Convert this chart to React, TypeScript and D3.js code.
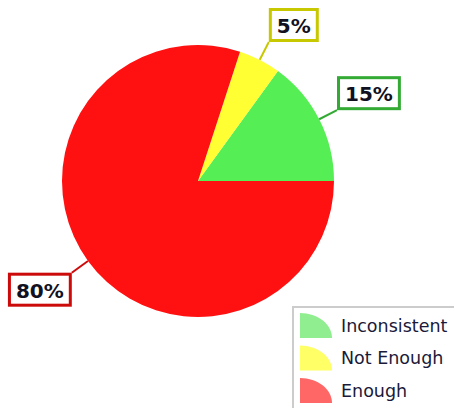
import React, { useEffect, useRef } from "react";
import * as d3 from "d3";

const categories = ["Inconsistent", "Not Enough", "Enough"];
const values = [15, 5, 80];
const labels = ["15%", "5%", "80%"];
const sliceColors = ["#55ee55", "#ffff33", "#ff1111"];
const borderColors = ["#33aa33", "#c8c800", "#cc0a0a"];
const legendColors = ["#90ee90", "#ffff66", "#ff6666"];

const W = 454;
const H = 408;

export default function App() {
  const ref = useRef<SVGSVGElement | null>(null);

  useEffect(() => {
    const svg = d3.select(ref.current);
    svg.selectAll("*").remove();

    const cx = 198;
    const cy = 181;
    const R = 136;
    const Rl = 156;

    const data = categories.map((c, i) => ({ c, v: values[i], i }));
    const pie = d3
      .pie<any>()
      .sort(null)
      .value((d) => d.v)
      .startAngle(Math.PI / 2)
      .endAngle(Math.PI / 2 - 2 * Math.PI);
    const arcs = pie(data);
    const arc = d3.arc<any>().innerRadius(0).outerRadius(R);

    const g = svg.append("g").attr("transform", `translate(${cx},${cy})`);
    g.selectAll("path.slice")
      .data(arcs)
      .enter()
      .append("path")
      .attr("class", "slice")
      .attr("d", arc as any)
      .attr("fill", (d: any) => sliceColors[d.data.i]);

    // labels
    arcs.forEach((a: any) => {
      const i = a.data.i;
      const mid = (a.startAngle + a.endAngle) / 2;
      const sx = Math.sin(mid);
      const sy = -Math.cos(mid);
      const x0 = R * sx;
      const y0 = R * sy;
      const x1 = Rl * sx;
      const y1 = Rl * sy;
      g.append("line")
        .attr("x1", x0)
        .attr("y1", y0)
        .attr("x2", x1)
        .attr("y2", y1)
        .attr("stroke", borderColors[i])
        .attr("stroke-width", 2);

      const lg = g.append("g");
      const rect = lg.append("rect");
      const t = lg
        .append("text")
        .text(labels[i])
        .attr("font-family", "DejaVu Sans, Verdana, sans-serif")
        .attr("font-weight", "bold")
        .attr("font-size", 20)
        .attr("fill", "#111122")
        .attr("dominant-baseline", "central")
        .attr("text-anchor", "middle");
      const tw = (t.node() as SVGTextElement).getComputedTextLength();
      const padX = 8;
      const bw = tw + padX * 2;
      const bh = 34;
      const bx = sx >= 0 ? x1 : x1 - bw;
      const by = sy <= 0 ? y1 - bh : y1;
      rect
        .attr("x", bx + 1.5)
        .attr("y", by + 1.5)
        .attr("width", bw - 3)
        .attr("height", bh - 3)
        .attr("fill", "#ffffff")
        .attr("stroke", borderColors[i])
        .attr("stroke-width", 3);
      t.attr("x", bx + bw / 2).attr("y", by + bh / 2 + 1);
    });

    // legend
    const lx = 292;
    const ly = 306;
    const leg = svg.append("g");
    leg
      .append("rect")
      .attr("x", lx + 1)
      .attr("y", ly + 1)
      .attr("width", 300)
      .attr("height", 200)
      .attr("fill", "#ffffff")
      .attr("stroke", "#cccccc")
      .attr("stroke-width", 2);
    const rowH = 32.5;
    categories.forEach((c, i) => {
      const iy = ly + 7 + i * rowH; // top of icon
      const ix = lx + 8;
      const iw = 32;
      const ih = 25;
      const path = d3.path();
      path.moveTo(ix, iy + ih);
      path.lineTo(ix, iy);
      path.bezierCurveTo(
        ix + iw * 0.55,
        iy,
        ix + iw,
        iy + ih * 0.45,
        ix + iw,
        iy + ih
      );
      path.closePath();
      leg
        .append("path")
        .attr("d", path.toString())
        .attr("fill", legendColors[i]);
      leg
        .append("text")
        .text(c)
        .attr("x", lx + 49)
        .attr("y", iy + ih / 2)
        .attr("dominant-baseline", "central")
        .attr("font-family", "DejaVu Sans, Verdana, sans-serif")
        .attr("font-size", 17.5)
        .attr("fill", "#1a1a3a");
    });
  }, []);

  return (
    <svg
      ref={ref}
      width={W}
      height={H}
      style={{ position: "absolute", left: 0, top: 0, background: "#ffffff" }}
    />
  );
}
